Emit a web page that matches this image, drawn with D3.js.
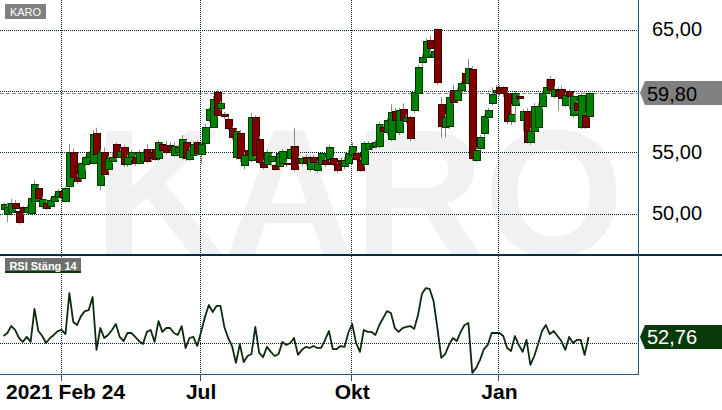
<!DOCTYPE html>
<html><head><meta charset="utf-8">
<script src="https://cdn.jsdelivr.net/npm/d3@7"></script>
<style>html,body{margin:0;padding:0;background:#fff;} svg{display:block;}</style>
</head><body>
<svg id="c" width="722" height="410"></svg>
<script>
const symbol = "KARO";
const rsiLabel = "RSI Stäng 14";
const opens = [50.4,49.9,50.2,50.9,50.2,50.5,50.1,50.1,51.0,52.1,50.6,50.9,50.6,51.0,51.3,51.8,51.0,52.2,55.0,53.0,
52.9,54.0,54.6,54.1,56.6,52.3,55.0,53.6,54.3,55.7,54.6,55.4,54.0,54.6,54.6,54.1,54.3,55.3,55.0,55.3,
54.5,55.7,55.6,55.6,54.8,55.0,54.6,55.8,54.5,54.8,55.8,54.9,55.8,57.6,57.1,59.9,58.6,58.1,57.7,57.0,
54.6,56.6,54.0,55.2,54.4,57.9,56.1,54.2,54.0,54.3,54.0,53.8,54.1,54.1,54.6,55.5,54.5,54.1,54.6,53.6,
54.6,53.55,54.0,54.4,54.4,54.5,54.05,54.4,53.9,54.1,54.8,54.95,54.4,54.0,55.3,55.4,55.5,55.5,57.1,56.6,
56.1,58.4,56.65,58.5,57.6,57.9,58.45,59.85,62.4,62.8,64.15,62.85,65.05,58.9,57.1,57.1,60.1,59.3,60.1,61.5,
60.65,61.8,54.4,55.35,56.6,57.9,59.0,59.9,60.3,60.3,59.8,57.5,58.85,59.6,57.7,58.4,55.85,56.75,57.1,58.7,
59.8,61.0,59.6,60.1,60.2,58.9,60.0,58.05,59.0,57.05,58.05,57.95];
const highs = [50.9,50.9,51.2,51.1,50.3,50.6,50.7,51.5,52.7,52.3,51.4,51.2,51.3,51.6,52.0,52.0,52.2,55.7,55.3,53.2,
54.2,54.7,55.1,56.8,57.0,55.2,55.4,54.7,55.0,55.8,55.3,55.6,54.8,55.2,54.8,55.2,55.2,55.7,55.2,55.5,
56.0,55.8,55.9,55.8,55.8,55.6,56.4,56.0,55.4,55.9,56.0,55.9,57.3,58.7,59.6,60.1,59.2,58.3,57.9,57.1,
56.9,56.8,55.0,55.4,58.2,58.0,56.3,54.4,55.2,54.9,54.1,55.1,55.3,54.3,55.5,57.0,54.7,54.7,54.8,54.7,
54.8,54.3,55.0,54.6,55.6,54.7,54.2,54.6,54.6,55.2,55.8,55.1,54.6,55.9,55.9,55.8,56.0,57.5,57.3,57.8,
58.9,58.6,58.6,59.0,58.1,58.0,60.1,62.1,63.0,64.3,64.5,64.4,65.1,59.5,58.1,59.9,60.5,60.3,60.8,61.6,
62.6,62.0,55.4,56.4,58.1,58.6,60.3,60.5,60.5,60.4,60.0,58.9,60.0,59.8,58.5,58.6,57.0,59.0,59.0,60.0,
61.0,61.2,60.4,60.3,60.4,59.9,60.1,59.8,59.2,59.9,58.2,59.9];
const lows = [50.1,49.3,50.0,50.3,49.1,49.9,49.9,49.9,50.8,51.1,50.4,50.3,50.5,50.8,51.1,51.1,50.9,52.1,52.8,52.4,
52.6,53.5,54.4,54.0,54.7,51.9,53.0,53.4,54.1,54.4,54.5,53.8,53.8,54.4,53.9,54.0,54.2,54.1,54.2,54.3,
54.3,54.9,54.8,55.0,54.6,54.8,54.4,54.3,54.3,54.6,54.7,54.1,55.6,57.4,57.0,57.9,58.4,57.7,56.8,56.0,
54.4,54.2,53.6,54.7,54.2,54.5,54.0,53.6,53.9,53.9,53.5,53.6,53.9,53.8,54.4,53.4,53.9,53.9,53.9,53.4,
54.0,53.3,53.8,53.8,54.2,53.9,53.3,53.9,53.6,54.0,54.6,54.3,53.4,53.8,55.1,55.2,55.3,55.3,56.6,56.4,
55.9,57.5,56.4,57.4,57.3,55.9,58.2,59.7,62.0,62.6,63.0,62.0,60.5,56.2,56.2,56.9,58.9,59.1,59.9,60.5,
60.5,54.3,54.2,55.2,56.3,57.7,58.8,59.7,59.6,59.5,57.3,57.2,57.4,59.0,56.7,55.7,55.6,56.6,56.9,58.5,
59.6,59.8,59.4,58.4,59.3,58.7,58.5,57.8,58.2,56.9,56.9,57.8];
const closes = [50.8,50.5,50.9,50.5,49.3,50.1,50.5,51.3,52.4,51.3,51.2,50.5,51.1,51.4,51.8,51.3,52.1,55.0,53.0,52.7,
54.1,54.6,55.0,56.5,54.9,55.0,53.2,54.5,54.6,54.6,55.1,54.05,54.6,55.0,54.1,55.0,55.0,54.3,54.5,54.5,
55.8,55.2,55.0,55.2,55.5,55.4,56.1,54.5,55.2,55.7,54.9,55.7,57.1,58.5,59.35,58.0,59.0,57.9,57.0,56.3,
56.7,54.6,54.8,54.9,57.9,54.8,54.2,53.8,55.0,54.7,53.7,54.9,55.1,54.0,55.3,53.6,54.1,54.5,54.1,54.5,
54.2,54.2,54.9,54.05,55.4,54.05,53.55,54.05,54.4,54.95,55.5,54.5,53.6,55.75,55.75,55.6,55.8,57.3,56.8,57.6,
58.3,57.7,58.45,57.6,57.9,56.2,59.9,61.95,62.8,64.1,63.5,63.3,60.7,57.1,57.9,59.5,59.1,60.1,60.65,60.7,
61.9,54.5,55.2,56.25,57.95,58.45,59.75,60.1,59.8,59.8,57.55,58.1,59.8,59.4,58.4,55.85,56.75,58.8,58.8,59.8,
60.3,60.1,60.2,59.6,59.5,59.7,59.6,59.6,58.45,59.65,57.1,59.8];
const rsi = [53.2,54.6,57.8,56.0,52.3,50.5,52.8,50.5,65.7,55.5,53.2,50.0,52.3,53.7,55.5,56.0,54.1,73.0,59.7,58.3,
62.4,64.7,65.2,71.2,46.8,56.9,52.3,53.7,56.0,58.8,52.8,50.9,54.6,54.6,52.8,50.9,49.5,55.1,56.0,50.5,
60.1,55.1,56.9,56.9,54.6,53.7,57.8,47.7,52.3,52.8,48.6,55.1,62.0,67.5,64.3,67.1,67.1,57.4,52.3,48.6,
40.8,49.5,41.2,44.0,44.9,57.4,45.4,43.5,48.2,45.9,44.0,44.9,50.5,49.1,50.0,52.3,44.5,46.8,48.2,47.7,
48.6,47.7,47.7,51.4,55.5,47.2,47.2,48.6,48.2,54.6,58.8,50.0,45.9,56.0,55.1,55.1,53.7,58.3,61.5,64.7,
63.8,56.9,55.1,56.9,57.4,57.8,56.5,62.9,72.6,75.3,74.9,69.4,56.9,43.1,44.9,49.1,52.3,50.9,55.1,58.3,
59.2,36.2,38.5,42.2,47.2,49.1,54.6,54.6,54.6,53.2,47.7,46.3,53.2,49.1,45.9,51.4,39.9,44.0,49.5,55.5,
58.3,54.1,55.5,53.2,50.9,46.8,52.8,50.0,51.4,51.4,44.5,52.76];
const priceTicks = [50, 55, 60, 65];
const rsiGrid = [50];
const xTickIndex = [15, 51, 90, 128];
const xTickLabels = ["2021 Feb 24", "Jul", "Okt", "Jan"];
const lastPrice = 59.80;
const lastRsi = 52.76;

const FONT = "'Liberation Sans', Arial, sans-serif";
const svg = d3.select("#c");
const plotRight = 638;
const topBottom = 254;
const rsiTop = 256, rsiBottom = 374;

const x = d3.scaleLinear().domain([0, closes.length - 1]).range([3.5, 588.5]);
const y = d3.scaleLinear().domain([46.7, 67.42]).range([topBottom, 0]);
const yr = d3.scaleLinear().domain([35.7, 90.1]).range([rsiBottom, rsiTop]);
const fmt = v => d3.format(".2f")(v).replace(".", ",");

svg.append("rect").attr("width", 722).attr("height", 410).attr("fill", "#fff");

const defs = svg.append("defs");
defs.append("clipPath").attr("id", "topclip").append("rect")
  .attr("x", 0).attr("y", 0).attr("width", plotRight).attr("height", topBottom);
defs.append("clipPath").attr("id", "rsiclip").append("rect")
  .attr("x", 0).attr("y", rsiTop).attr("width", plotRight).attr("height", rsiBottom - rsiTop);

// watermark
svg.append("g").attr("clip-path", "url(#topclip)").append("text")
  .attr("x", 94).attr("y", topBottom + 1)
  .attr("font-family", FONT).attr("font-weight", "bold").attr("font-size", 180)
  .attr("fill", "#f1f1f1").text(symbol);

const gridColor = "#002238";
svg.append("g").selectAll("line").data(priceTicks).join("line")
  .attr("x1", 0).attr("x2", plotRight)
  .attr("y1", d => Math.round(y(d)) + 0.5).attr("y2", d => Math.round(y(d)) + 0.5)
  .attr("stroke", gridColor).attr("stroke-dasharray", "1,1").attr("stroke-width", 1);
const xt = xTickIndex.map(i => Math.round(x(i)) - 0.5);
svg.append("g").selectAll("line").data(xt).join("line")
  .attr("x1", d => d).attr("x2", d => d).attr("y1", 0).attr("y2", rsiBottom)
  .attr("stroke", gridColor).attr("stroke-dasharray", "1,1");
svg.append("g").selectAll("line").data(rsiGrid).join("line")
  .attr("x1", 0).attr("x2", plotRight)
  .attr("y1", d => Math.round(yr(d)) + 0.5).attr("y2", d => Math.round(yr(d)) + 0.5)
  .attr("stroke", gridColor).attr("stroke-dasharray", "1,1");

// last price dashed line
svg.append("line").attr("x1", 0).attr("x2", plotRight)
  .attr("y1", Math.round(y(lastPrice)) + 0.5).attr("y2", Math.round(y(lastPrice)) + 0.5)
  .attr("stroke", "#8a8a8a").attr("stroke-dasharray", "4,2").attr("stroke-width", 1);

// candles
const cg = svg.append("g").attr("clip-path", "url(#topclip)");
closes.forEach((c, i) => {
  const o = opens[i], h = highs[i], l = lows[i];
  const cx = Math.round(x(i));
  const up = c >= o;
  const g = cg.append("g");
  g.append("line").attr("x1", cx + 0.5).attr("x2", cx + 0.5)
    .attr("y1", y(h)).attr("y2", y(l)).attr("stroke", "#8c8c8c").attr("stroke-width", 1);
  const top = y(Math.max(o, c)), bot = y(Math.min(o, c));
  g.append("rect").attr("x", cx - 2.5).attr("width", 7)
    .attr("y", Math.round(top) + 0.5).attr("height", Math.max(1, Math.round(bot - top)))
    .attr("fill", up ? "#008000" : "#800000")
    .attr("stroke", up ? "#003800" : "#3a0000").attr("stroke-width", 1);
});

// KARO label
svg.append("rect").attr("x", 5).attr("y", 4).attr("width", 41).attr("height", 15).attr("fill", "#808080");
svg.append("text").attr("x", 25.5).attr("y", 16).attr("text-anchor", "middle")
  .attr("font-family", FONT).attr("font-size", 11).attr("fill", "#fff").text(symbol);

// divider
svg.append("line").attr("x1", 0).attr("x2", 722).attr("y1", 255).attr("y2", 255)
  .attr("stroke", "#0d2a3c").attr("stroke-width", 2);

// RSI line
svg.append("path").datum(rsi).attr("clip-path", "url(#rsiclip)")
  .attr("d", d3.line().x((d, i) => x(i)).y(d => yr(d)))
  .attr("fill", "none").attr("stroke", "#0e2a0e").attr("stroke-width", 1.8)
  .attr("stroke-linejoin", "round");

// RSI label
svg.append("rect").attr("x", 5).attr("y", 258).attr("width", 76).attr("height", 14).attr("fill", "#707070");
svg.append("rect").attr("x", 5).attr("y", 271).attr("width", 76).attr("height", 2).attr("fill", "#0b3a0b");
svg.append("text").attr("x", 43).attr("y", 269.5).attr("text-anchor", "middle")
  .attr("font-family", FONT).attr("font-size", 11).attr("font-weight", "bold")
  .attr("fill", "#fff").text(rsiLabel);

// axes lines
const axisColor = "#2b5277";
svg.append("line").attr("x1", plotRight + 0.5).attr("x2", plotRight + 0.5).attr("y1", 0).attr("y2", rsiBottom + 1)
  .attr("stroke", axisColor).attr("stroke-width", 1);
svg.append("line").attr("x1", 0).attr("x2", plotRight + 1).attr("y1", rsiBottom + 0.5).attr("y2", rsiBottom + 0.5)
  .attr("stroke", axisColor).attr("stroke-width", 1);
svg.append("g").selectAll("line").data(xt).join("line")
  .attr("x1", d => d).attr("x2", d => d).attr("y1", rsiBottom).attr("y2", rsiBottom + 7)
  .attr("stroke", axisColor).attr("stroke-width", 1);
svg.append("g").selectAll("text").data(xTickIndex).join("text")
  .attr("x", (d, i) => i === 0 ? 6 : x(d))
  .attr("y", 399)
  .attr("text-anchor", (d, i) => i === 0 ? "start" : "middle")
  .attr("font-family", FONT).attr("font-weight", "bold").attr("font-size", 21)
  .attr("fill", "#000").text((d, i) => xTickLabels[i]);

// price labels (those hidden under the last-price tag are not shown)
const ly = y(lastPrice);
svg.append("g").selectAll("text").data(priceTicks.filter(d => Math.abs(y(d) - ly) > 14)).join("text")
  .attr("x", 652).attr("y", d => y(d) + 6.5)
  .attr("font-family", FONT).attr("font-size", 20).attr("fill", "#000").text(d => fmt(d));

// last price tag
svg.append("path")
  .attr("d", `M640,${ly - 0.5} L645,${ly - 12.5} L722,${ly - 12.5} L722,${ly + 11.5} L645,${ly + 11.5} Z`)
  .attr("fill", "#808080");
svg.append("text").attr("x", 647).attr("y", ly + 7.5)
  .attr("font-family", FONT).attr("font-size", 20).attr("fill", "#000").text(fmt(lastPrice));

// last rsi tag
const ry = yr(lastRsi);
svg.append("path")
  .attr("d", `M640,${ry} L645,${ry - 12} L722,${ry - 12} L722,${ry + 12} L645,${ry + 12} Z`)
  .attr("fill", "#0a3a0a");
svg.append("text").attr("x", 647).attr("y", ry + 7.5)
  .attr("font-family", FONT).attr("font-size", 20).attr("fill", "#fff").text(fmt(lastRsi));
</script>
</body></html>
